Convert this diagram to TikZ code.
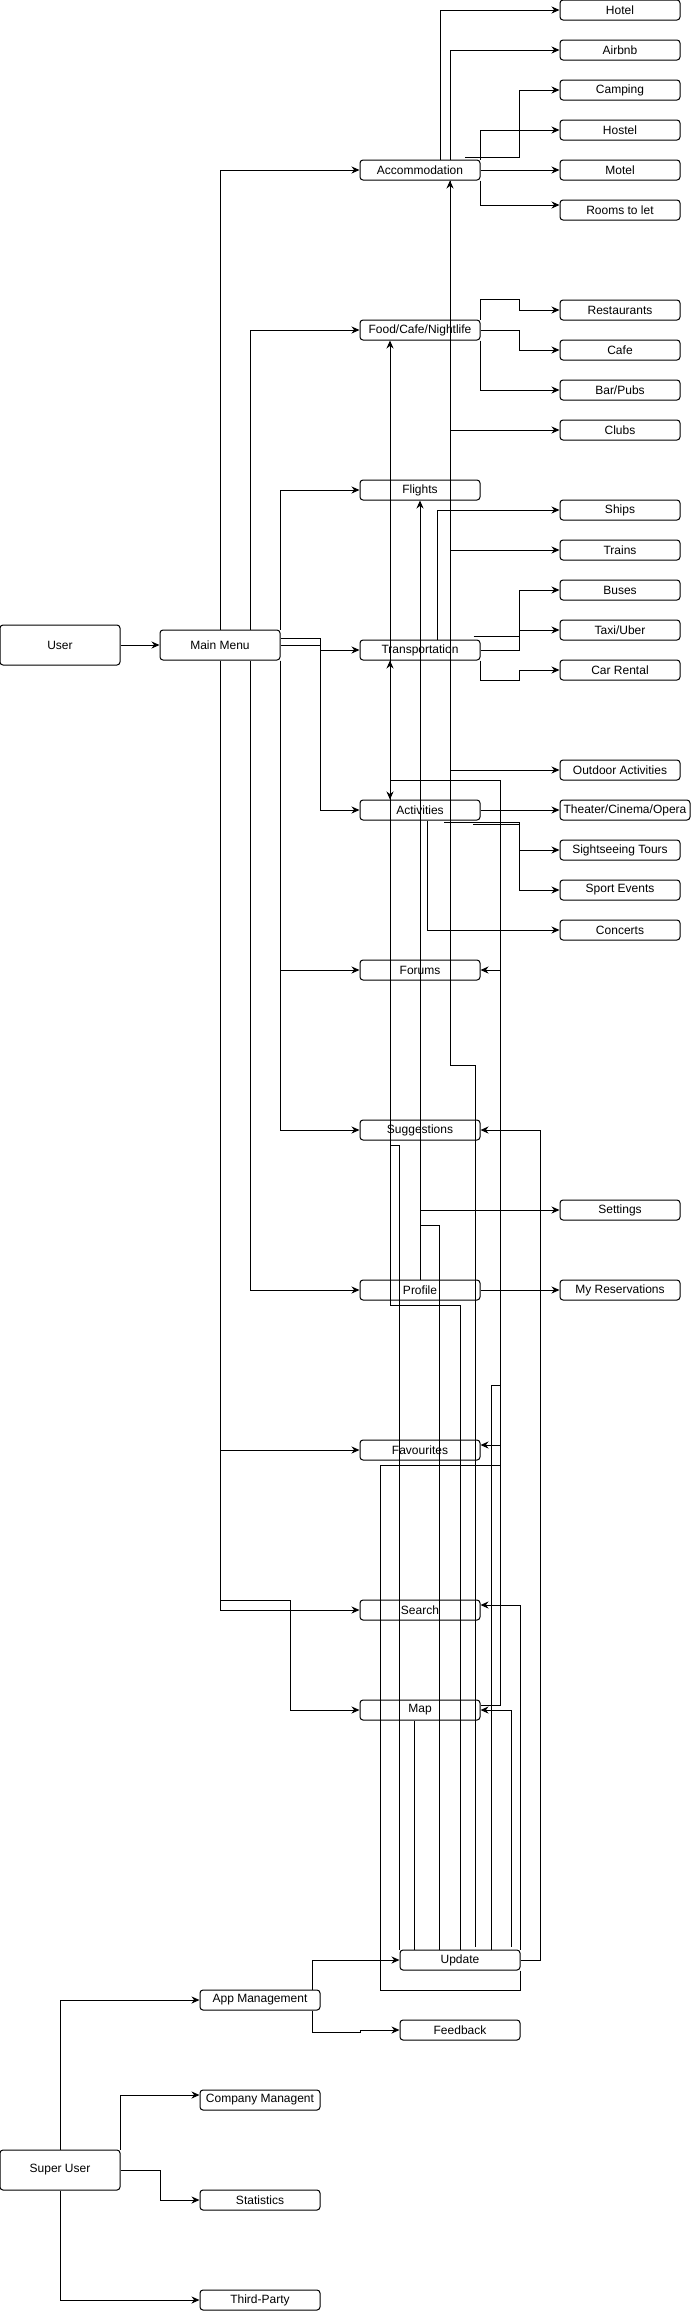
\documentclass[tikz,border=0pt]{standalone}
\usepackage{fontspec}
\setmainfont{Liberation Sans}
\usepackage{tikz}
\usetikzlibrary{arrows.meta, positioning, calc}

\begin{document}
\begin{tikzpicture}[
    x=1pt, y=-1pt,
    line width=1pt,
    every node/.style={font=\fontsize{12}{14}\selectfont},
    box/.style={draw, rounded corners=3pt, fill=white, inner sep=0pt,
                minimum width=120pt, minimum height=20pt},
    tall/.style={box, minimum height=40pt},
    arr/.style={-{Stealth[length=8pt, width=7pt]}}
  ]
  \useasboundingbox (0,0) rectangle (691,2311);

  % User side
  \node[tall] (user) at (60,645) {User};
  \node[box, minimum height=30pt] (menu) at (220,645) {Main Menu};

  % Main sections
  \node[box] (acc) at (420,170) {Accommodation};
  \node[box] (food) at (420,330) {Food/Cafe/Nightlife};
  \node[box] (flights) at (420,490) {Flights};
  \node[box] (trans) at (420,650) {Transportation};
  \node[box] (act) at (420,810) {Activities};
  \node[box] (forums) at (420,970) {Forums};
  \node[box] (sugg) at (420,1130) {Suggestions};
  \node[box] (profile) at (420,1290) {Profile};
  \node[box] (fav) at (420,1450) {Favourites};
  \node[box] (search) at (420,1610) {Search};
  \node[box] (map) at (420,1710) {Map};
  \node[box] (update) at (460,1960) {Update};
  \node[box] (feedback) at (460,2030) {Feedback};

  % Sub items
  \node[box] (hotel) at (620,10) {Hotel};
  \node[box] (airbnb) at (620,50) {Airbnb};
  \node[box] (camping) at (620,90) {Camping};
  \node[box] (hostel) at (620,130) {Hostel};
  \node[box] (motel) at (620,170) {Motel};
  \node[box] (rooms) at (620,210) {Rooms to let};
  \node[box] (rest) at (620,310) {Restaurants};
  \node[box] (cafe) at (620,350) {Cafe};
  \node[box] (bar) at (620,390) {Bar/Pubs};
  \node[box] (clubs) at (620,430) {Clubs};
  \node[box] (ships) at (620,510) {Ships};
  \node[box] (trains) at (620,550) {Trains};
  \node[box] (buses) at (620,590) {Buses};
  \node[box] (taxi) at (620,630) {Taxi/Uber};
  \node[box] (car) at (620,670) {Car Rental};
  \node[box] (outdoor) at (620,770) {Outdoor Activities};
  \node[box, minimum width=130pt] (theater) at (625,810) {Theater/Cinema/Opera};
  \node[box] (sight) at (620,850) {Sightseeing Tours};
  \node[box] (sport) at (620,890) {Sport Events};
  \node[box] (concerts) at (620,930) {Concerts};
  \node[box] (settings) at (620,1210) {Settings};
  \node[box] (myres) at (620,1290) {My Reservations};

  % Super user side
  \node[tall] (super) at (60,2170) {Super User};
  \node[box] (appm) at (260,2000) {App Management};
  \node[box] (comp) at (260,2100) {Company Managent};
  \node[box] (stats) at (260,2200) {Statistics};
  \node[box] (third) at (260,2300) {Third-Party};

  % Main menu links
  \draw[arr] (user) -- (menu);
  \draw[arr] (menu.north) |- (acc.west);
  \draw[arr] ([xshift=30pt]menu.north) |- (food.west);
  \draw[arr] (menu.north east) |- (flights.west);
  \draw[arr] (menu.east) -- ++(40,0) |- (trans.west);
  \draw[arr] ([yshift=7pt]menu.east) -- ++(40,0) |- (act.west);
  \draw[arr] (menu.south east) |- (forums.west);
  \draw[arr] (menu.south east) |- (sugg.west);
  \draw[arr] ([xshift=30pt]menu.south) |- (profile.west);
  \draw[arr] (menu.south) |- (fav.west);
  \draw[arr] (menu.south) |- (search.west);
  \draw[arr] (menu.south) |- (290,1600) |- (map.west);

  % Accommodation
  \draw[arr] ([xshift=20pt]acc.north) |- (hotel.west);
  \draw[arr] ([xshift=30pt]acc.north) |- (airbnb.west);
  \draw[arr] ([xshift=45pt,yshift=2pt]acc.north) -| ([xshift=-40pt]camping.west) -- (camping.west);
  \draw[arr] (acc.north east) |- (hostel.west);
  \draw[arr] (acc) -- (motel);
  \draw[arr] (acc.south east) |- ([yshift=5pt]rooms.west);
  \draw[arr] ([xshift=30pt]acc.south) |- (clubs.west);
  \draw[arr] ([xshift=30pt]acc.south) |- (trains.west);
  \draw[arr] ([xshift=30pt]acc.south) |- (outdoor.west);

  % Food
  \draw[arr] (food.north east) -- ++(0,-20) -| ([xshift=-40pt]rest.west) -- (rest.west);
  \draw[arr] (food.east) -| ([xshift=-40pt]cafe.west) -- (cafe.west);
  \draw[arr] (food.south east) |- (bar.west);

  % Transportation
  \draw[arr] ([xshift=17pt]trans.north) |- (ships.west);
  \draw[arr] (trans.east) -| ([xshift=-40pt]buses.west) -- (buses.west);
  \draw[arr] ([xshift=-7pt,yshift=3pt]trans.north east) -| ([xshift=-40pt]taxi.west) -- (taxi.west);
  \draw[arr] (trans.south east) -- ++(0,20) -| ([xshift=-40pt]car.west) -- (car.west);

  % Activities
  \draw[arr] (act) -- (theater);
  \draw[arr] ([xshift=24pt,yshift=-2pt]act.south) -| ([xshift=-40pt]sport.west) -- (sport.west);
  \draw[arr] ([xshift=53pt,yshift=-4pt]act.south) -| ([xshift=-40pt]sight.west) -- (sight.west);
  \draw[arr] ([xshift=7pt]act.south) |- (concerts.west);

  % Profile
  \draw[arr] (profile.north) |- (settings.west);
  \draw[arr] (profile) -- (myres);

  % Update links
  \coordinate (split) at (390,780);
  \draw[arr] (update.north) |- (390,1305) -- ([xshift=-30pt]food.south);
  \draw[arr] ([xshift=-21pt]update.north) |- (420,1225) -- (flights.south);
  \draw[arr] ([xshift=15pt,yshift=3pt]update.north) |- (450,1065) -- ([xshift=30pt]acc.south);
  \draw[arr] (update.south east) |- (380,1990) |- (500,1465) |- (split) -- ([xshift=-30pt]trans.south);
  \draw[arr] (split) -- ([xshift=-30pt]act.north);
  \draw[arr] (500,970) -- (forums.east);
  \draw[arr] (500,1445) -- ([yshift=5pt]fav.east);
  \draw ([yshift=5pt]map.east) -| (500,1465);
  \draw ([xshift=31pt]update.north) |- (500,1385);
  \draw (update.north west) |- (390,1145);
  \draw ([xshift=-6pt]map.south) -- ([xshift=-46pt]update.north);
  \draw[arr] (update.east) -- ++(20,0) |- (sugg.east);
  \draw[arr] (update.north east) |- ([yshift=5pt]search.east);
  \draw[arr] ([xshift=51pt,yshift=3pt]update.north) |- (map.east);

  % Super user links
  \draw[arr] (super.north) |- (appm.west);
  \draw[arr] (super.north east) |- ([yshift=5pt]comp.west);
  \draw[arr] (super.east) -- ++(40,0) |- (stats.west);
  \draw[arr] (super.south) |- (third.west);
  \draw[arr] ([xshift=52pt]appm.north) |- (update.west);
  \draw[arr] ([xshift=52pt]appm.south) |- (360,2032) |- (feedback.west);
\end{tikzpicture}
\end{document}
